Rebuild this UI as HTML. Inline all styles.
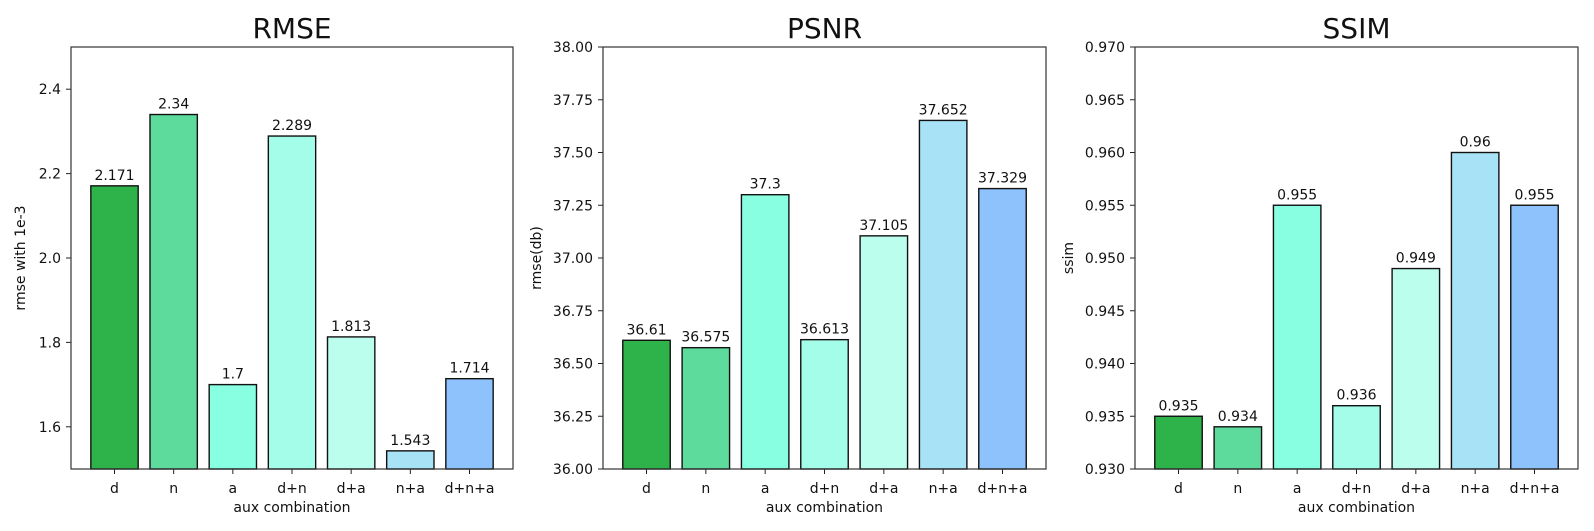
<!DOCTYPE html>
<html><head><meta charset="utf-8">
<style>
html,body{margin:0;padding:0;background:#fff;}
svg{display:block;font-family:"DejaVu Sans","Liberation Sans",sans-serif;}
</style></head>
<body>
<svg id="chart" width="1594" height="531" viewBox="0 0 1594 531" xmlns="http://www.w3.org/2000/svg"></svg>
<script>
const categories = ["d","n","a","d+n","d+a","n+a","d+n+a"];
const barColors = ["#2db34a","#5ddb9d","#88ffe0","#a3fde8","#bbfeee","#a8e2f6","#8dc2fd"];
const rmseValues = [2.171,2.34,1.7,2.289,1.813,1.543,1.714];
const rmseLabels = ["2.171","2.34","1.7","2.289","1.813","1.543","1.714"];
const rmseTicks = ["1.6","1.8","2.0","2.2","2.4"];
const psnrValues = [36.61,36.575,37.3,36.613,37.105,37.652,37.329];
const psnrLabels = ["36.61","36.575","37.3","36.613","37.105","37.652","37.329"];
const psnrTicks = ["36.00","36.25","36.50","36.75","37.00","37.25","37.50","37.75","38.00"];
const ssimValues = [0.935,0.934,0.955,0.936,0.949,0.96,0.955];
const ssimLabels = ["0.935","0.934","0.955","0.936","0.949","0.96","0.955"];
const ssimTicks = ["0.930","0.935","0.940","0.945","0.950","0.955","0.960","0.965","0.970"];

const NS="http://www.w3.org/2000/svg";
const svg=document.getElementById('chart');
function mk(tag,attrs,parent){const e=document.createElementNS(NS,tag);for(const k in attrs)e.setAttribute(k,attrs[k]);(parent||svg).appendChild(e);return e;}

const TOP=47,BOT=469,FS=14;
function panel(key,left,right,title,ylabel,ymin,ymax,values,labels,ticks,ylx){
  const g=mk('g',{});
  
  
  const y=v=>BOT-(v-ymin)/(ymax-ymin)*(BOT-TOP);
  const step=(right-left-87)/6;
  const x=i=>left+43.5+i*step;
  const bw=0.8*step;
  values.forEach((v,i)=>{
    const r=mk('rect',{x:x(i)-bw/2,y:y(v),width:bw,height:BOT-y(v),fill:barColors[i],stroke:'#111','stroke-width':1.4},g);
    
    
    const t=mk('text',{x:x(i),y:y(v)-6,'text-anchor':'middle','font-size':FS,fill:'#111'},g);
    t.textContent=labels[i];
    
    
    mk('line',{x1:x(i),x2:x(i),y1:BOT,y2:BOT+5,stroke:'#222','stroke-width':1},g);
    const c=mk('text',{x:x(i),y:BOT+24,'text-anchor':'middle','font-size':FS,fill:'#111'},g);
    c.textContent=categories[i];
    
    
  });
  ticks.forEach(tl=>{
    const v=parseFloat(tl);const yy=y(v);
    mk('line',{x1:left-5,x2:left,y1:yy,y2:yy,stroke:'#222','stroke-width':1},g);
    const t=mk('text',{x:left-10,y:yy+5,'text-anchor':'end','font-size':FS,fill:'#111'},g);
    t.textContent=tl;
    
    
  });
  const f=mk('rect',{x:left,y:TOP,width:right-left,height:BOT-TOP,fill:'none',stroke:'#333','stroke-width':1.2},g);
  
  
  const tt=mk('text',{x:(left+right)/2,y:38,'text-anchor':'middle','font-size':28,fill:'#111'},g);
  tt.textContent=title;
  
  
  const xl=mk('text',{x:(left+right)/2,y:512,'text-anchor':'middle','font-size':FS,fill:'#111'},g);
  xl.textContent='aux combination';
  
  
  const yl=mk('text',{x:0,y:0,'text-anchor':'middle','font-size':FS,fill:'#111',transform:`translate(${left-ylx},${(TOP+BOT)/2}) rotate(-90)`},g);
  yl.textContent=ylabel;
  
  
}
panel('rmse',71,513,'RMSE','rmse with 1e-3',1.5,2.5,rmseValues,rmseLabels,rmseTicks,46);
panel('psnr',603,1046,'PSNR','rmse(db)',36,38,psnrValues,psnrLabels,psnrTicks,62);
panel('ssim',1135,1578,'SSIM','ssim',0.93,0.97,ssimValues,ssimLabels,ssimTicks,62);
</script>
</body></html>
